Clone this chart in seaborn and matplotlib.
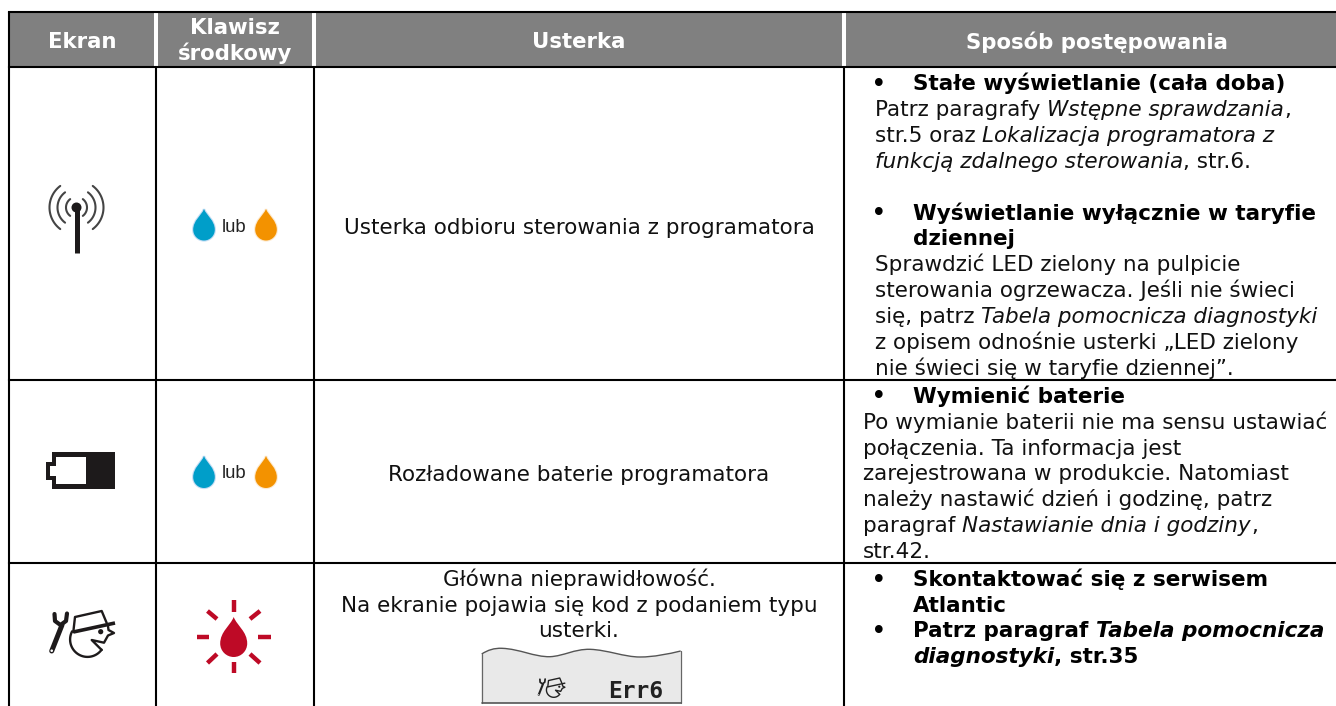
import numpy as np
import seaborn as sns
import matplotlib
matplotlib.use("Agg")
import matplotlib.pyplot as plt
from matplotlib.patches import Polygon, Rectangle, PathPatch, Circle
from matplotlib.path import Path

sns.set_theme(style="white")
plt.rcParams['font.family'] = ['DejaVu Sans']

headers = ["Ekran", "Klawisz\nśrodkowy", "Usterka", "Sposób postępowania"]
fault_top = "Usterka odbioru sterowania z programatora"
fault_mid = "Rozładowane baterie programatora"
fault_low = ["Główna nieprawidłowość.", "Na ekranie pojawia się kod z podaniem typu", "usterki."]
or_word = "lub"
lcd_code = "Err6"

B = dict(weight="bold"); I = dict(style="italic"); N = {}
BI = dict(weight="bold", style="italic")
action_lines = [
 ("bullet", [("Stałe wyświetlanie (cała doba)", B)]),
 ("wide", [("Patrz paragrafy ", N), ("Wstępne sprawdzania", I), (",", N)]),
 ("wide", [("str.5 oraz ", N), ("Lokalizacja programatora z", I)]),
 ("wide", [("funkcją zdalnego sterowania", I), (", str.6.", N)]),
 ("blank", []),
 ("bullet", [("Wyświetlanie wyłącznie w taryfie", B)]),
 ("hang", [("dziennej", B)]),
 ("wide", [("Sprawdzić LED zielony na pulpicie", N)]),
 ("wide", [("sterowania ogrzewacza. Jeśli nie świeci", N)]),
 ("wide", [("się, patrz ", N), ("Tabela pomocnicza diagnostyki", I)]),
 ("wide", [("z opisem odnośnie usterki „LED zielony", N)]),
 ("wide", [("nie świeci się w taryfie dziennej”.", N)]),
]
battery_lines = [
 ("bullet", [("Wymienić baterie", B)]),
 ("left", [("Po wymianie baterii nie ma sensu ustawiać", N)]),
 ("left", [("połączenia. Ta informacja jest", N)]),
 ("left", [("zarejestrowana w produkcie. Natomiast", N)]),
 ("left", [("należy nastawić dzień i godzinę, patrz", N)]),
 ("left", [("paragraf ", N), ("Nastawianie dnia i godziny", I), (",", N)]),
 ("left", [("str.42.", N)]),
]
service_lines = [
 ("bullet", [("Skontaktować się z serwisem", B)]),
 ("hang", [("Atlantic", B)]),
 ("bullet", [("Patrz paragraf ", B), ("Tabela pomocnicza", BI)]),
 ("hang", [("diagnostyki", BI), (", str.35", B)]),
]

X = [9, 156, 314, 844, 1336]
Y = [12, 67, 380, 562.5, 706]
FS = 15.45
INK = "#111111"
INDENT = {"wide": 875, "left": 863, "bullet": 913, "hang": 913}

fig = plt.figure(figsize=(13.36, 7.06), dpi=100)
ax = fig.add_axes([0, 0, 1, 1])
ax.set_xlim(0, 1336); ax.set_ylim(706, 0); ax.axis("off")
LW = 1.5

ax.add_patch(Rectangle((X[0], Y[0]), X[4]-X[0], Y[1]-Y[0], fc="#808080", ec="none"))
for x in X[1:4]:
    ax.plot([x, x], [Y[0], Y[1]], color="white", lw=2.9, solid_capstyle="butt")
    ax.plot([x, x], [Y[1], Y[4]], color="black", lw=LW, solid_capstyle="butt")
for y in Y[:4]:
    ax.plot([X[0], X[4]], [y, y], color="black", lw=LW, solid_capstyle="projecting")
ax.plot([X[0], X[0]], [Y[0], Y[4]], color="black", lw=LW, solid_capstyle="butt")

header_x = [82, 235, 579, 1097]
header_y = [42, 41, 42, 42]
for i, h in enumerate(headers):
    ax.text(header_x[i], header_y[i], h, color="white", weight="bold", fontsize=15.3,
            ha="center", va="center", linespacing=1.2)

ax.text(579, 228, fault_top, ha="center", va="center", fontsize=FS, color=INK)
ax.text(579, 475, fault_mid, ha="center", va="center", fontsize=FS, color=INK)
for s, y in zip(fault_low, [586, 612, 637]):
    ax.text(579, y, s, ha="center", va="baseline", fontsize=FS, color=INK)

fig.canvas.draw()
rend = fig.canvas.get_renderer()

def write_block(lines, y0, step=25.9):
    for n, (kind, parts) in enumerate(lines):
        y = y0 + n*step
        if kind == "bullet":
            ax.text(879, y + 1.5, "•", ha="center", va="baseline", fontsize=19, color="black")
        x = INDENT.get(kind, 875)
        for s, kw in parts:
            col = "black" if kw.get("weight") == "bold" else INK
            t = ax.text(x, y, s, va="baseline", fontsize=FS, color=col, **kw)
            x = x + t.get_window_extent(rend).width

write_block(action_lines, 90)
write_block(battery_lines, 403, 25.8)
write_block(service_lines, 586, 25.7)

def drop(cx, top, bot, hw, color, halo=None):
    r = hw
    yc = bot - r
    k = 0.5523*r
    verts = [(cx, top),
             (cx+0.25*hw, top+0.33*(yc-top)), (cx+hw, yc-0.45*(yc-top)), (cx+hw, yc),
             (cx+hw, yc+k), (cx+k, bot), (cx, bot),
             (cx-k, bot), (cx-hw, yc+k), (cx-hw, yc),
             (cx-hw, yc-0.45*(yc-top)), (cx-0.25*hw, top+0.33*(yc-top)), (cx, top)]
    codes = [Path.MOVETO] + [Path.CURVE4]*12
    if halo:
        ax.add_patch(PathPatch(Path(verts, codes), fc="none", ec=halo, lw=1.6, alpha=0.35))
    ax.add_patch(PathPatch(Path(verts, codes), fc=color, ec="none"))

def drop_pair(yt, yb, ym):
    drop(204, yt, yb, 10.8, "#009ec9", "#5a9fe0")
    drop(266, yt, yb, 10.8, "#f39200", "#f7c27a")
    ax.text(234, ym, or_word, family="Liberation Sans", fontsize=13.3, ha="center", va="center", color="#222222")

drop_pair(209, 240.5, 227)
drop_pair(456, 488, 474)

# antenna
acx, acy = 76.5, 207.5
for r, w in ((10.5, 1.5), (19, 1.5), (27, 1.5)):
    for base in (0, 180):
        th = np.radians(np.linspace(base-53, base+53, 30))
        ax.plot(acx + r*np.cos(th), acy + r*np.sin(th), color="#444444", lw=w)
ax.plot([acx, acx], [acy, 253], color="#1d1a1b", lw=3.6, solid_capstyle="butt")
ax.add_patch(Circle((acx, acy), 5, fc="#1d1a1b", ec="none"))

# battery
ax.add_patch(Polygon([(52, 452), (115, 452), (115, 489), (52, 489), (52, 480), (45.5, 480), (45.5, 462), (52, 462)],
                     fc="#1d1a1b", ec="none", joinstyle="round"))
ax.add_patch(Polygon([(56, 457), (86, 457), (86, 484), (56, 484), (56, 476), (50, 476), (50, 466), (56, 466)],
                     fc="white", ec="none"))

# mechanic icon
def mech(ox, oy, s=1.0, c="#1d1a1b"):
    P = lambda pts: (ox + s*np.array(pts)[:, 0], oy + s*np.array(pts)[:, 1])
    lw = max(1.0, 1.7*s)
    xs, ys = P([(51.7, 651), (62, 625)])
    ax.plot(xs, ys, color=c, lw=3.6*s, solid_capstyle="round")
    xs, ys = P([(54.5, 614), (55, 621), (60.5, 625), (66, 621), (67, 613.5)])
    ax.plot(xs, ys, color=c, lw=3.0*s, solid_capstyle="round")
    ax.add_patch(Circle((ox + s*51.7, oy + s*650.7), 1.3*s, fc="white", ec="none", zorder=3))
    th = np.radians(np.linspace(208, 36, 50))
    ax.plot(ox + s*(87.5 + 17.4*np.cos(th)), oy + s*(639.5 + 17.4*np.sin(th)), color=c, lw=lw)
    xs, ys = P([(73.3, 632), (75, 617), (101.7, 611), (106.7, 623)])
    ax.plot(xs, ys, color=c, lw=lw)
    xs, ys = P([(73.3, 632), (115, 623)])
    ax.plot(xs, ys, color=c, lw=2.6*s if s > 0.6 else lw, solid_capstyle="butt")
    xs, ys = P([(108, 626), (108.5, 630), (114, 633), (108, 635.5), (104, 642.7), (91.7, 640), (101.7, 650)])
    ax.plot(xs, ys, color=c, lw=lw)
    ax.add_patch(Circle((ox + s*100.7, oy + s*631.7), 2.6*s, fc=c, ec="none"))

mech(0, 0, 1.0)

# red drop with rays
rc = "#be0a26"
drop(233.7, 617, 657, 13.5, rc)
ray_x = [[233.7, 233.7], [233.7, 233.7], [197, 209], [258, 271], [207.5, 217], [250, 260], [207.5, 217], [250, 260]]
ray_y = [[600, 612], [662, 673], [637, 637], [637, 637], [611, 619], [619, 611], [663, 654], [654, 663]]
for rx, ry in zip(ray_x, ray_y):
    ax.plot(rx, ry, color=rc, lw=3.2, solid_capstyle="butt")

# display panel
pv = [(481.7, 654),
      (488, 650), (494, 648), (502, 648.3),
      (520, 649), (534, 657), (550, 656.7),
      (564, 656), (574, 649), (590, 649.3),
      (608, 650), (624, 657), (640, 657),
      (654, 657), (668, 654), (680.7, 651)]
pc = [Path.MOVETO] + [Path.CURVE4]*15
fill_v = pv + [(680.7, 703), (481.7, 703), (481.7, 654)]
fill_c = pc + [Path.LINETO, Path.LINETO, Path.LINETO]
ax.add_patch(PathPatch(Path(fill_v, fill_c), fc="#e9e9e9", ec="none"))
ax.plot([481.7, 481.7], [654, 703], color="#666666", lw=0.9)
ax.plot([680.7, 680.7], [651, 703], color="#666666", lw=0.9)
ax.plot([481.7, 680.7], [703, 703], color="#555555", lw=1.2)
ax.add_patch(PathPatch(Path(pv, pc), fc="none", ec="#555555", lw=1.0))
mech(517, 421.4, 0.42, "#222222")
ax.text(635.5, 698, lcd_code, family="DejaVu Sans Mono", weight="bold", fontsize=16.5, ha="center", va="baseline", color="#222222")

plt.savefig("out.png", dpi=100)
